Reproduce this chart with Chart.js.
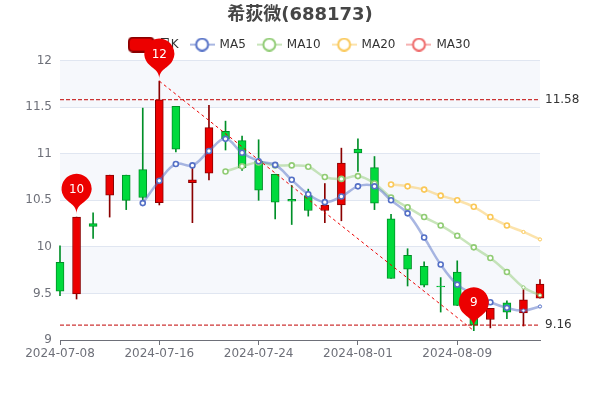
<!DOCTYPE html>
<html><head><meta charset="utf-8">
<style>html,body{margin:0;padding:0;background:#fff}canvas{display:block}</style>
<script src="https://cdn.jsdelivr.net/npm/chart.js@4"></script>
</head><body><canvas id="c" width="600" height="400"></canvas>
<script>
const titleText='希荻微(688173)';
const dates=['2024-07-08','2024-07-09','2024-07-10','2024-07-11','2024-07-12','2024-07-15','2024-07-16','2024-07-17','2024-07-18','2024-07-19','2024-07-22','2024-07-23','2024-07-24','2024-07-25','2024-07-26','2024-07-29','2024-07-30','2024-07-31','2024-08-01','2024-08-02','2024-08-05','2024-08-06','2024-08-07','2024-08-08','2024-08-09','2024-08-12','2024-08-13','2024-08-14','2024-08-15','2024-08-16'];
const openVals=[9.835,9.495,10.25,10.555,10.77,10.83,10.475,11.51,10.69,10.79,11.24,11.14,10.92,10.78,10.51,10.55,10.39,10.45,11.05,10.85,10.3,9.91,9.79,9.58,9.73,9.37,9.22,9.4,9.29,9.45];
const closeVals=[9.524,10.32,10.22,10.77,10.5,10.53,11.58,11.05,10.72,11.28,11.16,10.85,10.61,10.48,10.49,10.39,10.45,10.9,11.01,10.47,9.66,9.76,9.59,9.57,9.37,9.16,9.34,9.3,9.43,9.6];
const highVals=[10.01,10.32,10.365,10.77,10.77,11.49,11.78,11.51,10.87,11.52,11.35,11.19,11.15,10.78,10.66,10.62,10.68,11.06,11.16,10.97,10.35,9.98,9.84,9.67,9.85,9.4,9.34,9.42,9.54,9.65];
const lowVals=[9.475,9.44,10.09,10.32,10.4,10.5,10.45,11.02,10.26,10.72,11.04,10.82,10.5,10.3,10.24,10.33,10.26,10.28,10.81,10.4,9.66,9.58,9.57,9.3,9.37,9.1,9.13,9.23,9.15,9.45];
const n=null;
const ma5=[n,n,n,n,n,10.47,10.71,10.89,10.875,11.03,11.16,11.01,10.92,10.88,10.72,10.565,10.48,10.54,10.65,10.65,10.5,10.36,10.1,9.81,9.595,9.49,9.405,9.345,9.316,9.36];
const ma10=[n,n,n,n,n,n,n,n,n,n,10.81,10.865,10.905,10.875,10.875,10.86,10.75,10.73,10.76,10.68,10.53,10.425,10.32,10.23,10.12,9.995,9.88,9.73,9.565,9.48];
const ma20=[n,n,n,n,n,n,n,n,n,n,n,n,n,n,n,n,n,n,n,n,10.67,10.65,10.615,10.55,10.5,10.43,10.32,10.23,10.16,10.08];
const ma30=[];
const highLineVal=11.58, lowLineVal=9.16;
const trendFrom=6, trendTo=25, trendFromVal=11.78, trendToVal=9.1;
const pinIndexes=[1,6,25];
const pinValues=[10.35,11.8,9.13];
const pinLabels=['10','12','9'];
const legendNames=['日K','MA5','MA10','MA20','MA30'];
const yTicks=[9,9.5,10,10.5,11,11.5,12];

const FONT="'DejaVu Sans','Noto Sans CJK SC',sans-serif";
const UP='#ec0000',UPB='#8A0000',DOWN='#00da3c',DOWNB='#008F28';
const COL={MA5:'#5470C6',MA10:'#91CC75',MA20:'#FAC858',MA30:'#EE6666'};
const fade=c=>c+'80';
const isUp=i=>closeVals[i]>=openVals[i];
const only=(pairs)=>dates.map((d,i)=>pairs.has(i)?pairs.get(i):null);

function lineIcon(color){
  const c=document.createElement('canvas');c.width=25;c.height=14;const x=c.getContext('2d');
  x.strokeStyle=fade(color);x.lineWidth=2;x.beginPath();x.moveTo(0,7);x.lineTo(25,7);x.stroke();
  x.fillStyle='#fff';x.strokeStyle=color;x.lineWidth=2;x.beginPath();x.arc(12.5,7,6,0,Math.PI*2);x.fill();x.stroke();
  return c;
}
function candleIcon(){
  const c=document.createElement('canvas');c.width=27;c.height=16;const x=c.getContext('2d');
  x.fillStyle=UP;x.strokeStyle=UPB;x.lineWidth=2;x.beginPath();x.roundRect(1,1,25,14,4);x.fill();x.stroke();
  return c;
}
const maLine=(label,data,color)=>({type:'line',label,data,borderColor:fade(color),borderWidth:2.5,tension:0.4,yAxisID:'y',
  pointBackgroundColor:'#fff',pointBorderColor:color,order:3,clip:false,
  pointBorderWidth:c=>c.dataIndex>=28?1:1.6,
  pointRadius:c=>c.dataIndex>=28?1.6:2.5,pointHoverRadius:3});
const markLine=(label,data,color,dash)=>({type:'line',label,data,borderColor:color,borderWidth:1,borderDash:dash,yAxisID:'y',
  pointRadius:0,spanGaps:true,order:2,clip:false,tension:0});

const bandsPlugin={id:'bands',beforeDraw(ch){
  const y=ch.scales.y,a=ch.chartArea,ctx=ch.ctx;
  ctx.save();ctx.fillStyle='rgba(210,219,238,0.2)';
  for(let i=1;i<yTicks.length;i+=2){
    const t=y.getPixelForValue(yTicks[i+1]===undefined?yTicks[i]:yTicks[i+1]),b=y.getPixelForValue(yTicks[i]);
    ctx.fillRect(a.left,t,a.right-a.left,b-t);
  }
  ctx.restore();
}};
const marksPlugin={id:'marks',afterDatasetsDraw(ch){
  const {x:xs,y:ys}=ch.scales,ctx=ch.ctx,a=ch.chartArea;
  ctx.save();
  ctx.font='12px '+FONT;ctx.fillStyle='#333';ctx.textAlign='left';ctx.textBaseline='middle';
  [highLineVal,lowLineVal].forEach(v=>ctx.fillText(v.toFixed(2),a.right+5,ys.getPixelForValue(v)));
  pinIndexes.forEach((idx,k)=>{
    const x=xs.getPixelForValue(idx),y=ys.getPixelForValue(pinValues[k]);
    const h=47.5,r=15,dy=r*r/(h-r),cy=y-h+r+dy,ang=Math.asin(dy/r),dx=Math.cos(ang)*r,tx=Math.sin(ang),ty=Math.cos(ang),c1=r*.6,c2=r*.7;
    ctx.fillStyle=UP;ctx.beginPath();ctx.moveTo(x-dx,cy+dy);
    ctx.arc(x,cy,r,Math.PI-ang,Math.PI*2+ang);
    ctx.bezierCurveTo(x+dx-tx*c1,cy+dy+ty*c1,x,y-c2,x,y);
    ctx.bezierCurveTo(x,y-c2,x-dx+tx*c1,cy+dy+ty*c1,x-dx,cy+dy);
    ctx.closePath();ctx.fill();
    ctx.fillStyle='#fff';ctx.textAlign='center';ctx.textBaseline='middle';ctx.font='12px '+FONT;
    ctx.fillText(pinLabels[k],x,cy+1);
  });
  ctx.restore();
}};
new Chart(document.getElementById('c'),{
  type:'bar',
  plugins:[bandsPlugin,marksPlugin],
  data:{labels:dates,datasets:[
    {type:'bar',label:'wick',data:dates.map((d,i)=>[lowVals[i],highVals[i]]),grouped:false,barThickness:1,yAxisID:'y',
      backgroundColor:dates.map((d,i)=>isUp(i)?UPB:DOWNB),borderWidth:0,order:6,clip:false},
    {type:'bar',label:legendNames[0],data:dates.map((d,i)=>[openVals[i],closeVals[i]]),grouped:false,barThickness:8,yAxisID:'y',
      backgroundColor:dates.map((d,i)=>isUp(i)?UP:DOWN),borderColor:dates.map((d,i)=>isUp(i)?UPB:DOWNB),
      borderWidth:1,borderSkipped:false,order:5,clip:false},
    maLine(legendNames[1],ma5,COL.MA5),
    maLine(legendNames[2],ma10,COL.MA10),
    maLine(legendNames[3],ma20,COL.MA20),
    maLine(legendNames[4],ma30,COL.MA30),
    markLine('high',only(new Map([[0,highLineVal],[dates.length-1,highLineVal]])),'#c00000',[4,2]),
    markLine('low',only(new Map([[0,lowLineVal],[dates.length-1,lowLineVal]])),'#c00000',[4,2]),
    markLine('trend',only(new Map([[trendFrom,trendFromVal],[trendTo,trendToVal]])),'#ec0000',[3,3]),
  ]},
  options:{
    responsive:false,animation:false,devicePixelRatio:1,
    layout:{padding:{left:0,right:0,top:0,bottom:30}},
    plugins:{
      tooltip:{enabled:false},
      title:{display:true,text:titleText,color:'#464646',font:{family:FONT,size:18,weight:'bold'},padding:{top:5,bottom:0}},
      legend:{display:true,position:'top',onClick:null,
        labels:{usePointStyle:true,pointStyleWidth:23,boxHeight:14,padding:12,color:'#333',font:{family:FONT,size:12},
          generateLabels(){
            return legendNames.map((t,i)=>({text:t,fontColor:'#333',hidden:false,datasetIndex:i+1,lineWidth:0,
              pointStyle:i===0?candleIcon():lineIcon(COL[t])}));
          }}}
    },
    scales:{
      x:{type:'category',offset:false,
        afterBuildTicks(s){s.ticks=s.ticks.filter(t=>t.value%6===0);},
        afterFit(s){s.height=30;},
        grid:{display:true,offset:false,drawOnChartArea:false,drawTicks:true,tickLength:5,tickColor:'#6E7079'},
        border:{display:true,color:'#6E7079',width:1},
        ticks:{autoSkip:false,maxRotation:0,minRotation:0,color:'#6E7079',padding:2,font:{family:FONT,size:12}}},
      y:{type:'linear',min:9,max:12,
        afterFit(s){s.width=60;},
        afterBuildTicks(s){s.ticks=yTicks.map(v=>({value:v}));},
        grid:{color:'#E0E6F1',drawTicks:false,lineWidth:1},
        border:{display:false},
        ticks:{color:'#6E7079',padding:8,font:{family:FONT,size:12},callback:v=>String(v)}},
      yRight:{type:'linear',position:'right',min:9,max:12,
        afterFit(s){s.width=60;},
        grid:{display:false},border:{display:false},
        ticks:{display:false}}
    }
  }
});
</script></body></html>
